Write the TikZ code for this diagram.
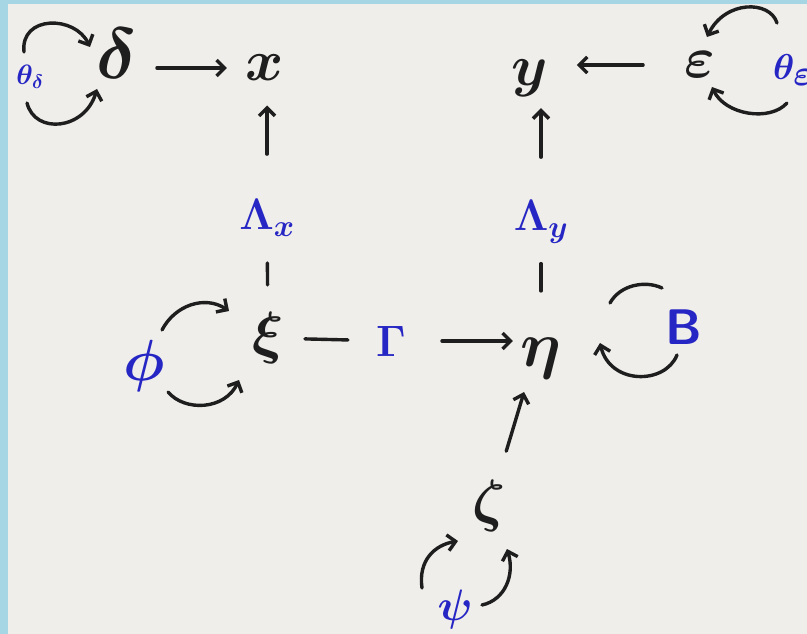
\documentclass[tikz,border=0pt]{standalone}
\usepackage{fix-cm}
\usetikzlibrary{arrows.meta,calc}
\definecolor{frame}{RGB}{166,214,228}
\definecolor{paper}{RGB}{240,238,234}
\definecolor{ink}{RGB}{30,30,30}
\definecolor{blueink}{RGB}{38,38,196}
\begin{document}
\begin{tikzpicture}[x=1pt,y=-1pt,
  every node/.style={inner sep=1pt},
  var/.style={text=ink,font=\fontsize{58}{60}\selectfont\boldmath},
  par/.style={text=blueink,font=\fontsize{44}{46}\selectfont\boldmath},
  small/.style={text=blueink,font=\fontsize{28}{30}\selectfont\boldmath},
  edge/.style={draw=ink,line width=3.4pt,line cap=round},
  arr/.style={edge,-{Straight Barb[length=8pt,width=16pt]}}]
\fill[frame] (0,0) rectangle (807,634);
\fill[paper] (8,4) rectangle (807,634);
\useasboundingbox (0,0) rectangle (807,634);
% variables
\node[var,font=\fontsize{72}{74}\selectfont\boldmath] (delta) at (117,54) {$\delta$};
\node[var] (x) at (265,68) {$x$};
\node[var] (y) at (530,78) {$y$};
\node[var] (eps) at (700,65) {$\varepsilon$};
\node[var] (xi) at (268,338) {$\xi$};
\node[var,font=\fontsize{64}{66}\selectfont\boldmath] (eta) at (541,358) {$\eta$};
\node[var] (zeta) at (489,506) {$\zeta$};
% parameters
\node[par] (Lx) at (267,218) {$\Lambda_x$};
\node[par] (Ly) at (541,222) {$\Lambda_y$};
\node[par] (Gam) at (391,341) {$\Gamma$};
\node[par,font=\fontsize{50}{52}\selectfont\bfseries\sffamily] (B) at (684,327) {B};
\node[par,font=\fontsize{58}{60}\selectfont\boldmath] (phi) at (144,366) {$\phi$};
\node[par] (psi) at (455,609) {$\psi$};
\node[small] (thd) at (30,77) {$\theta_\delta$};
\node[small,font=\fontsize{36}{38}\selectfont\boldmath,anchor=west] (the) at (772,70) {$\theta_{\textstyle\varepsilon}$};
% connectors
\draw[arr] ($(delta |- x)!0.27!(x)$) -- ($(delta |- x)!0.743!(x)$);
\draw[arr] ($(eps)!0.335!(y |- eps)$) -- ($(eps)!0.724!(y |- eps)$);
\draw[arr] ($(Lx)!0.426!(Lx |- x)$) -- ($(Lx)!0.75!(Lx |- x)$);
\draw[arr] ($(Ly)!0.45!(Ly |- y)$) -- ($(Ly)!0.79!(Ly |- y)$);
\draw[edge] ($(Lx)!0.375!(xi)$) -- ($(Lx)!0.558!(xi)$);
\draw[edge] ($(Ly)!0.306!(eta)$) -- ($(Ly)!0.507!(eta)$);
\draw[edge] ($(xi)!0.30!(Gam)$) -- ($(xi)!0.65!(Gam)$);
\draw[arr] ($(Gam)!0.34!(eta |- Gam)$) -- ($(Gam)!0.813!(eta |- Gam)$);
\draw[arr] ($(zeta)!0.37!(eta)+(-2,0)$) -- ($(zeta)!0.77!(eta)+(-5,0)$);
% self loops
\draw[arr] (24,52) .. controls (20,15) and (75,15) .. (90,47);
\draw[arr] (27,103) .. controls (35,135) and (85,130) .. (97,89);
\draw[arr] (777,23) .. controls (770,0) and (725,0) .. (707,37);
\draw[arr] (787,103) .. controls (770,122) and (725,115) .. (712,87);
\draw[arr] (162,330) .. controls (175,305) and (205,295) .. (229,311);
\draw[arr] (168,392) .. controls (185,412) and (225,410) .. (239,380);
\draw[edge] (610,303) .. controls (620,285) and (645,280) .. (662,288);
\draw[arr] (677,355) .. controls (665,385) and (610,385) .. (600,343);
\draw[arr] (422,588) .. controls (418,560) and (435,545) .. (458,541);
\draw[arr] (482,605) .. controls (505,600) and (515,575) .. (507,549);
\end{tikzpicture}
\end{document}
